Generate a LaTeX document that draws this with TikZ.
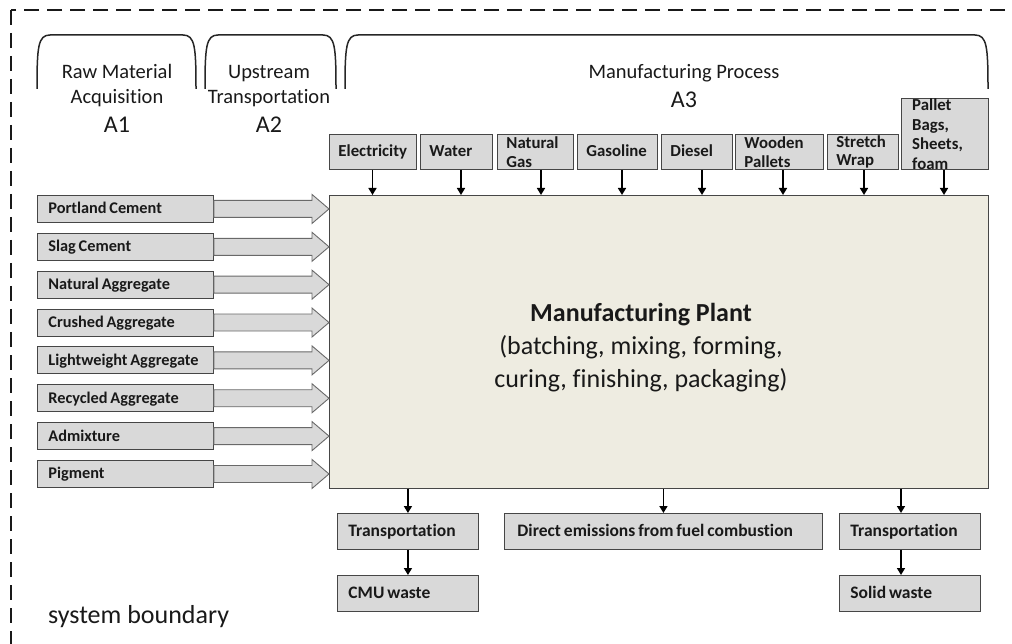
\documentclass[tikz,border=0pt]{standalone}
\usepackage{fontspec}
\setmainfont{Carlito}[Ligatures=NoCommon]
\newfontfamily\bxfont{Carlito}[WordSpace=0.75,Ligatures=NoCommon]
\usetikzlibrary{arrows.meta,calc}
\definecolor{boxfill}{RGB}{217,217,217}
\definecolor{boxedge}{RGB}{70,70,70}
\definecolor{plantfill}{RGB}{238,236,225}
\definecolor{arrowedge}{RGB}{105,105,105}
\definecolor{txt}{RGB}{25,25,25}
\begin{document}
\begin{tikzpicture}[x=1pt,y=-1pt,
  box/.style={draw=boxedge, line width=0.9pt, fill=boxfill, anchor=north west, inner sep=0pt,
    inner xsep=11pt, align=flush left, text=txt, font=\bxfont\bfseries\fontsize{16.3}{19}\selectfont},
  single/.style={text height=13pt, text depth=3pt},
  topbox/.style={box, inner xsep=9pt, minimum height=35pt, font=\bxfont\bfseries\fontsize{16.8}{18.5}\selectfont},
  lbox/.style={box, single, text width=154pt, minimum height=27pt},
  bbox/.style={box, single, minimum height=36pt, font=\bxfont\bfseries\fontsize{17.5}{20}\selectfont},
  plantbox/.style={draw=boxedge, line width=0.9pt, fill=plantfill, anchor=north west, inner sep=0pt},
  blockarr/.style={draw=arrowedge, line width=0.9pt, fill=boxfill, line join=miter},
  arr/.style={line width=1.6pt, -{Triangle[length=7pt,width=8pt]}},
  brace/.style={draw=black!85, line width=1.5pt},
  lbl/.style={text=txt, inner sep=0pt, font=\fontsize{20.5}{25}\selectfont},
  biglbl/.style={text=txt, inner sep=0pt, font=\fontsize{24}{28}\selectfont},
  planttxt/.style={text=txt, inner sep=0pt, font=\fontsize{26}{33}\selectfont},
  boundary/.style={draw=black!90, line width=1.8pt, dash pattern=on 15pt off 8pt}]
\useasboundingbox (0,0) rectangle (1012,644);
\clip (0,0) rectangle (1012,644);

% system boundary
\draw[boundary] (11,10) rectangle (1060,700);
\node[anchor=base west, text=txt, inner sep=0pt, font=\fontsize{26}{30}\selectfont] (sysb) at (48,623) {system boundary};

% stage braces
\draw[brace] (37,89) .. controls (37,47) and (38,35) .. (50,35) -- (183,35) .. controls (195,35) and (196,47) .. (196,89);
\draw[brace] (205,89) .. controls (205,47) and (206,35) .. (218,35) -- (323,35) .. controls (335,35) and (336,47) .. (336,89);
\draw[brace] (345,89) .. controls (345,47) and (346,35) .. (358,35) -- (975,35) .. controls (987,35) and (988,47) .. (988,89);

\node[lbl, anchor=base] (a1l1) at (117,79) {Raw Material};
\node[lbl, anchor=base] (a1l2) at (117,104) {Acquisition};
\node[biglbl, anchor=base] (a1) at (117,133) {A1};
\node[lbl, anchor=base] (a2l1) at (269,79) {Upstream};
\node[lbl, anchor=base] (a2l2) at (269,104) {Transportation};
\node[biglbl, anchor=base] (a2) at (269,133) {A2};
\node[lbl, anchor=base] (a3l1) at (684,79) {Manufacturing Process};
\node[biglbl, anchor=base] (a3) at (684,108) {A3};

% manufacturing plant
\node[plantbox, minimum width=659pt, minimum height=293pt] (plant) at (329,195) {};
\node[planttxt, anchor=base, font=\bfseries\fontsize{26}{33}\selectfont] (pt1) at (641,322) {Manufacturing Plant};
\node[planttxt, anchor=base] (pt2) at (641,354.5) {(batching, mixing, forming,};
\node[planttxt, anchor=base] (pt3) at (641,387) {curing, finishing, packaging)};

% top inputs
\node[topbox, single, text width=69pt] (elec) at (329,134) {Electricity};
\node[topbox, single, text width=54pt] (water) at (420,134) {Water};
\node[topbox, text width=58pt] (ngas) at (497,134) {Natural\\Gas};
\node[topbox, single, text width=62pt] (gasol) at (577,134) {Gasoline};
\node[topbox, single, text width=53pt] (diesel) at (661,134) {Diesel};
\node[topbox, text width=70pt] (wood) at (735,134) {Wooden\\Pallets};
\node[topbox, text width=53pt] (wrap) at (827,134) {Stretch\\Wrap};
\node[box, minimum width=87pt, minimum height=71pt] (pallet) at (901,98) {};
\node[anchor=north west, inner sep=0pt, align=flush left, text=txt, font=\bxfont\bfseries\fontsize{16.8}{19.5}\selectfont] (pallettxt) at (912,99) {Pallet\\Bags,\\Sheets,\\foam};

\foreach \n/\x in {elec/372.5, water/461, ngas/541, gasol/622, diesel/702, wood/783, wrap/864, pallet/944}
  \draw[arr] (\x,0 |- \n.south) -- (\x,0 |- plant.north);

% raw materials
\foreach \i/\n/\t in {0/pc/Portland Cement, 1/sc/Slag Cement, 2/na/Natural Aggregate, 3/ca/Crushed Aggregate,
   4/lw/Lightweight Aggregate, 5/ra/Recycled Aggregate, 6/ad/Admixture, 7/pg/Pigment} {
  \pgfmathsetmacro\yt{195+\i*37.86}
  \node[lbox] (\n) at (37,\yt) {\t};
  \draw[blockarr] ([yshift=8.5pt]\n.east) -- ($(\n.east -| plant.west)+(-17,-8.5)$)
    -- ($(\n.east -| plant.west)+(-17,-14.5)$) -- (\n.east -| plant.west)
    -- ($(\n.east -| plant.west)+(-17,14.5)$) -- ($(\n.east -| plant.west)+(-17,8.5)$)
    -- ([yshift=-8.5pt]\n.east) -- cycle;
}

% outputs
\node[bbox, text width=119pt] (tr1) at (337,513) {Transportation};
\node[bbox, text width=119pt] (cmu) at (337,575) {CMU\ waste};
\node[bbox, inner xsep=13pt, text width=292pt] (emis) at (504,513) {Direct emissions from fuel combustion};
\node[bbox, text width=119pt] (tr2) at (839,513) {Transportation};
\node[bbox, text width=119pt] (solid) at (839,575) {Solid waste};

\draw[arr] (plant.south -| tr1.north) -- (tr1.north);
\draw[arr] (tr1.south) -- (cmu.north);
\draw[arr] (plant.south -| emis.north) -- (emis.north);
\draw[arr] (901,0 |- plant.south) -- (901,0 |- tr2.north);
\draw[arr] (901,0 |- tr2.south) -- (901,0 |- solid.north);
\end{tikzpicture}
\end{document}
